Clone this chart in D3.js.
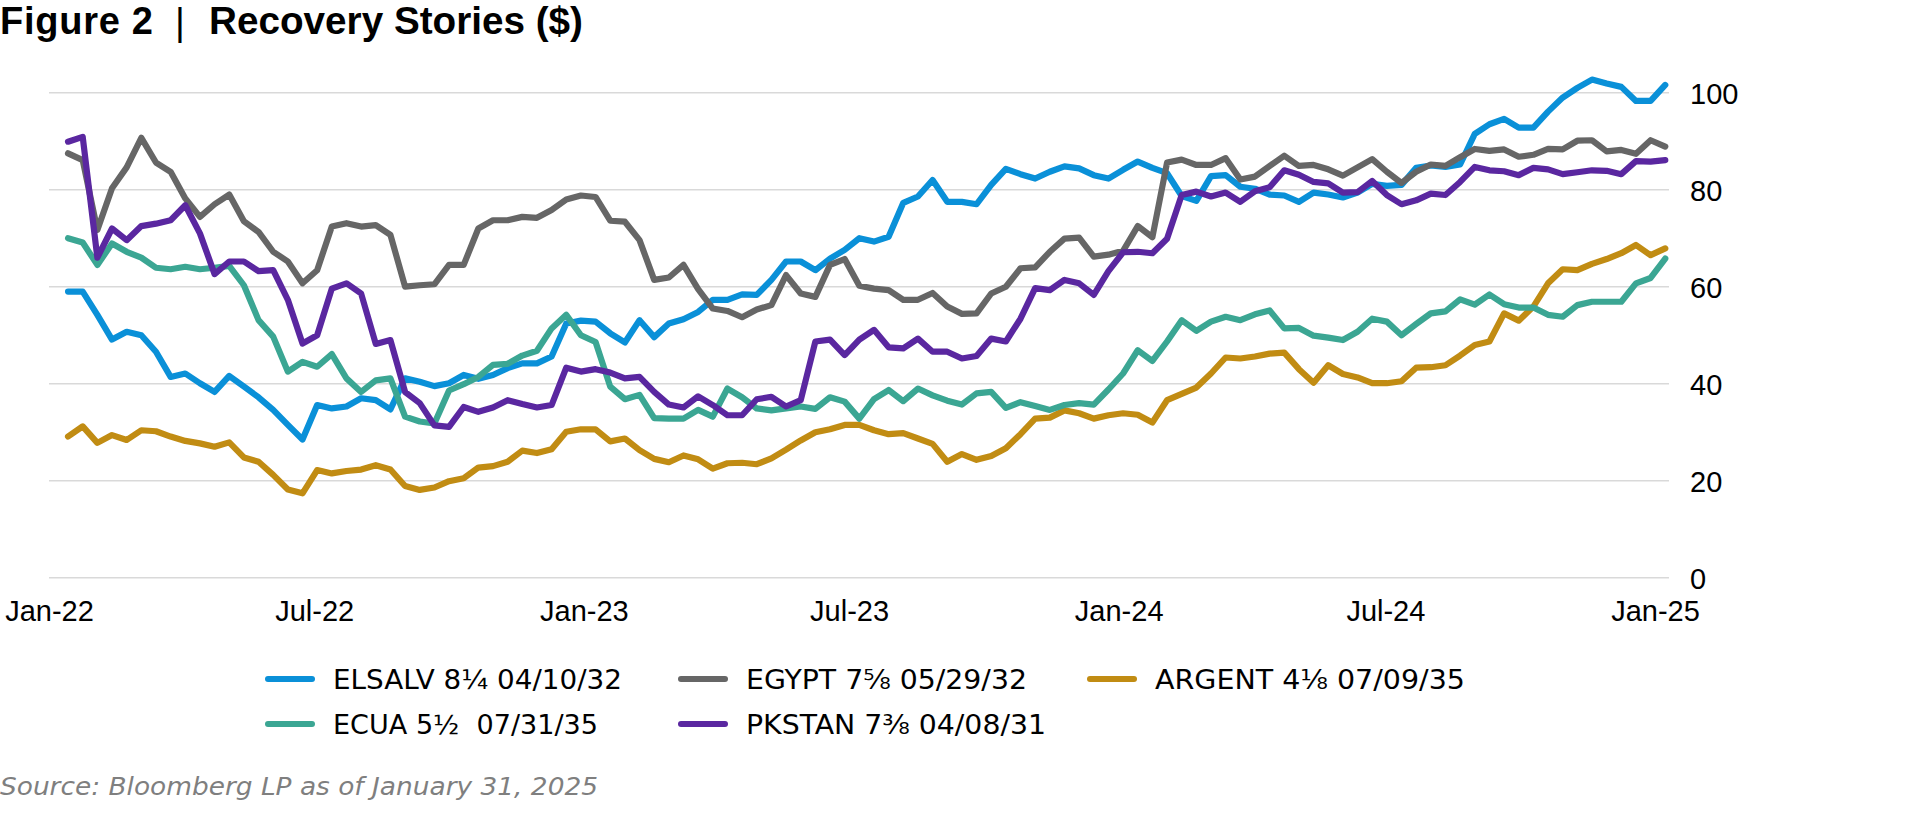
<!DOCTYPE html>
<html>
<head>
<meta charset="utf-8">
<script src="https://cdn.jsdelivr.net/npm/d3@7"></script>
<style>
  html, body { margin: 0; padding: 0; background: #ffffff; }
  svg { display: block; }
</style>
</head>
<body>
<svg id="chart" width="1913" height="814"></svg>
<script>
// ---------------- DATA ----------------
const seriesNames  = ["ELSALV 8¼ 04/10/32", "EGYPT 7⅝ 05/29/32", "ARGENT 4⅛ 07/09/35", "ECUA 5½  07/31/35", "PKSTAN 7⅜ 04/08/31"];
const seriesColors = ["#0a90d8", "#666666", "#c18c13", "#3ba693", "#5a27a0"];

// sampled every 10 days, starting at this date
const startDate = "2022-01-14";
const stepDays = 10;

const elsalv = [59.0,59.0,54.2,49.1,50.7,50.0,46.6,41.4,42.1,40.1,
  38.3,41.6,39.4,37.2,34.6,31.5,28.5,35.6,34.9,35.3,
  37.0,36.6,34.7,41.1,40.4,39.5,40.1,41.8,41.0,41.8,
  43.2,44.2,44.2,45.6,52.4,53.0,52.8,50.4,48.5,53.1,
  49.6,52.4,53.3,54.8,57.3,57.3,58.4,58.3,61.4,65.2,
  65.2,63.4,65.8,67.6,70.0,69.3,70.3,77.3,78.6,82.0,
  77.5,77.5,77.0,81.0,84.3,83.2,82.3,83.7,84.8,84.4,
  83.0,82.3,84.1,85.8,84.5,83.4,78.7,77.7,82.8,83.0,
  80.6,80.2,79.0,78.8,77.5,79.4,79.0,78.4,79.4,81.2,
  80.8,81.0,84.5,85.0,84.7,85.2,91.5,93.5,94.6,92.8,
  92.8,96.1,99.0,101.0,102.7,101.9,101.2,98.3,98.3,101.6];

const egypt = [87.5,86.1,71.7,80.3,84.6,90.7,85.6,83.7,78.2,74.4,
  77.0,79.0,73.5,71.3,67.2,65.2,60.7,63.4,72.4,73.1,
  72.4,72.7,70.7,60.0,60.3,60.5,64.5,64.5,72.0,73.7,
  73.7,74.4,74.2,75.8,78.0,78.8,78.5,73.6,73.4,69.6,
  61.4,61.9,64.5,59.5,55.5,55.0,53.7,55.3,56.2,62.4,
  58.6,57.9,64.5,65.7,60.2,59.6,59.3,57.3,57.3,58.7,
  55.9,54.4,54.5,58.6,60.0,63.8,64.0,67.2,69.9,70.1,
  66.2,66.6,67.4,72.5,70.2,85.6,86.2,85.1,85.1,86.5,
  82.1,82.7,84.9,87.0,84.9,85.1,84.2,82.9,84.6,86.3,
  83.7,81.4,83.7,85.2,84.9,86.7,88.4,88.0,88.3,86.8,
  87.2,88.4,88.3,90.1,90.2,87.9,88.2,87.4,90.2,88.9];

const argent = [29.1,31.2,27.8,29.4,28.4,30.4,30.2,29.1,28.2,27.7,
  27.0,27.9,24.8,23.9,21.2,18.2,17.4,22.2,21.5,22.0,
  22.3,23.2,22.3,18.9,18.1,18.6,19.9,20.5,22.7,23.0,
  23.9,26.2,25.7,26.5,30.1,30.6,30.6,28.1,28.7,26.3,
  24.5,23.8,25.2,24.4,22.5,23.6,23.7,23.4,24.6,26.4,
  28.3,30.0,30.6,31.5,31.5,30.4,29.6,29.8,28.7,27.6,
  23.9,25.5,24.3,25.1,26.7,29.6,32.8,33.0,34.5,33.9,
  32.8,33.5,33.9,33.6,32.0,36.6,37.9,39.2,42.1,45.4,
  45.2,45.6,46.2,46.4,43.0,40.2,43.8,42.0,41.3,40.1,
  40.1,40.5,43.3,43.4,43.8,45.8,48.0,48.7,54.5,53.0,
  55.9,60.7,63.6,63.4,64.7,65.7,66.9,68.6,66.5,67.9];

const ecua = [70.0,69.1,64.5,68.9,67.2,66.0,63.9,63.6,64.1,63.6,
  63.9,64.3,60.3,53.1,49.7,42.5,44.5,43.5,46.1,41.1,
  38.3,40.7,41.1,33.2,32.2,31.8,38.6,39.9,41.4,43.9,
  44.1,45.8,46.8,51.4,54.2,50.0,48.6,39.4,36.8,37.7,
  32.9,32.8,32.8,34.6,33.2,39.0,37.2,34.9,34.5,34.9,
  35.3,34.8,37.2,36.3,32.8,36.8,38.7,36.4,39.0,37.6,
  36.5,35.7,38.0,38.3,35.0,36.2,35.4,34.6,35.6,36.0,
  35.7,38.8,42.1,46.9,44.7,48.7,53.1,50.9,52.8,53.8,
  53.1,54.3,55.1,51.4,51.5,49.9,49.5,49.0,50.7,53.4,
  52.8,50.0,52.3,54.5,54.9,57.4,56.3,58.4,56.4,55.7,
  55.7,54.2,53.8,56.2,56.9,56.9,56.9,60.7,61.8,65.8];

const pkstan = [89.9,90.9,66.0,72.0,69.6,72.5,73.0,73.7,76.8,71.0,
  62.6,65.2,65.2,63.2,63.4,57.3,48.3,50.0,59.6,60.7,
  58.6,48.2,49.0,38.3,36.0,31.4,31.1,35.2,34.2,35.1,
  36.6,35.8,35.1,35.6,43.3,42.5,43.0,42.3,41.1,41.4,
  38.3,35.7,35.1,37.4,35.6,33.5,33.5,36.8,37.3,35.3,
  36.6,48.7,49.1,45.9,49.1,51.1,47.5,47.3,49.3,46.6,
  46.6,45.2,45.7,49.3,48.7,53.4,59.7,59.3,61.4,60.7,
  58.3,63.2,67.1,67.2,66.9,69.9,78.9,79.6,78.6,79.4,
  77.5,79.7,80.5,84.0,83.1,81.6,81.3,79.4,79.5,81.8,
  78.9,77.0,77.8,79.2,78.9,81.6,84.7,84.0,83.8,83.0,
  84.5,84.2,83.2,83.6,84.0,83.9,83.2,85.9,85.8,86.1];

const seriesValues = [elsalv, egypt, argent, ecua, pkstan];

const yTicks = [0, 20, 40, 60, 80, 100];
const xTickDates = ["2022-01-01", "2022-07-01", "2023-01-01", "2023-07-01", "2024-01-01", "2024-07-01", "2025-01-01"];

const titleMain = "Figure 2";
const titleSep = "|";
const titleRest = "Recovery Stories ($)";
const sourceText = "Source: Bloomberg LP as of January 31, 2025";

// ---------------- LAYOUT ----------------
const plotLeft = 49, plotRight = 1669, plotTop = 92.7, plotBottom = 577.7;
const parse = d3.utcParse("%Y-%m-%d");
const svg = d3.select("#chart");

const x = d3.scaleUtc()
  .domain([parse(xTickDates[0]), parse(xTickDates[xTickDates.length - 1])])
  .range([49, 1655]);
const y = d3.scaleLinear().domain([0, 100]).range([plotBottom, plotTop]);

// Title
const tFont = "'Liberation Sans', Arial, Helvetica, sans-serif";
svg.append("text").attr("x", 0).attr("y", 34)
  .attr("font-family", tFont).attr("font-weight", 700).attr("font-size", 38)
  .attr("textLength", 153).attr("lengthAdjust", "spacing")
  .attr("fill", "#000").text(titleMain);
svg.append("text").attr("x", 180).attr("y", 35)
  .attr("text-anchor", "middle")
  .attr("font-family", tFont).attr("font-weight", 400).attr("font-size", 38)
  .attr("fill", "#000").text(titleSep);
svg.append("text").attr("x", 209).attr("y", 34)
  .attr("font-family", tFont).attr("font-weight", 700).attr("font-size", 38)
  .attr("textLength", 374).attr("lengthAdjust", "spacingAndGlyphs")
  .attr("fill", "#000").text(titleRest);

// Gridlines
svg.append("g").selectAll("line").data(yTicks).join("line")
  .attr("x1", plotLeft).attr("x2", plotRight)
  .attr("y1", d => y(d)).attr("y2", d => y(d))
  .attr("stroke", "#d9d9d9").attr("stroke-width", 1.5);

// Y axis (right)
const yAxis = svg.append("g").attr("transform", `translate(${plotRight},0)`)
  .call(d3.axisRight(y).tickValues(yTicks).tickSize(0).tickPadding(21));
yAxis.select(".domain").remove();
yAxis.selectAll("text").attr("font-family", tFont).attr("font-size", 29).attr("fill", "#000").attr("dy", "0.36em");

// X axis
const xAxis = svg.append("g").attr("transform", `translate(0,${plotBottom})`)
  .call(d3.axisBottom(x).tickValues(xTickDates.map(parse)).tickFormat(d3.utcFormat("%b-%y")).tickSize(0).tickPadding(23));
xAxis.select(".domain").remove();
xAxis.selectAll("text").attr("font-family", tFont).attr("font-size", 29).attr("fill", "#000");

// Lines
const start = parse(startDate);
const line = d3.line().x(d => x(d.date)).y(d => y(d.v)).curve(d3.curveLinear);
seriesValues.forEach((vals, si) => {
  const pts = vals.map((v, i) => ({ date: d3.utcDay.offset(start, i * stepDays), v }));
  svg.append("path").datum(pts)
    .attr("d", line)
    .attr("fill", "none")
    .attr("stroke", seriesColors[si])
    .attr("stroke-width", 6.2)
    .attr("stroke-linejoin", "round")
    .attr("stroke-linecap", "round");
});

// Legend
const legCols = [265, 678, 1087];
const legRows = [679, 724];
const legTextWidths = [289, 281, 310, 265, 300];
const legPos = [[0,0],[1,0],[2,0],[0,1],[1,1]];
const legFont = "'DejaVu Sans', 'Liberation Sans', sans-serif";
seriesNames.forEach((name, i) => {
  const lx = legCols[legPos[i][0]], ly = legRows[legPos[i][1]];
  const g = svg.append("g");
  g.append("line").attr("x1", lx + 3).attr("x2", lx + 47).attr("y1", ly).attr("y2", ly)
    .attr("stroke", seriesColors[i]).attr("stroke-width", 6).attr("stroke-linecap", "round");
  g.append("text").attr("x", lx + 68).attr("y", ly + 9.5)
    .attr("font-family", legFont).attr("font-size", 26.5)
    .style("white-space", "pre")
    .attr("textLength", legTextWidths[i]).attr("lengthAdjust", "spacingAndGlyphs")
    .attr("fill", "#000").text(name);
});

// Source
svg.append("text").attr("x", 0).attr("y", 795)
  .attr("font-family", "'DejaVu Sans', sans-serif").attr("font-style", "italic").attr("font-size", 24)
  .attr("textLength", 598).attr("lengthAdjust", "spacingAndGlyphs")
  .attr("fill", "#7f7f7f").text(sourceText);
</script>
</body>
</html>
